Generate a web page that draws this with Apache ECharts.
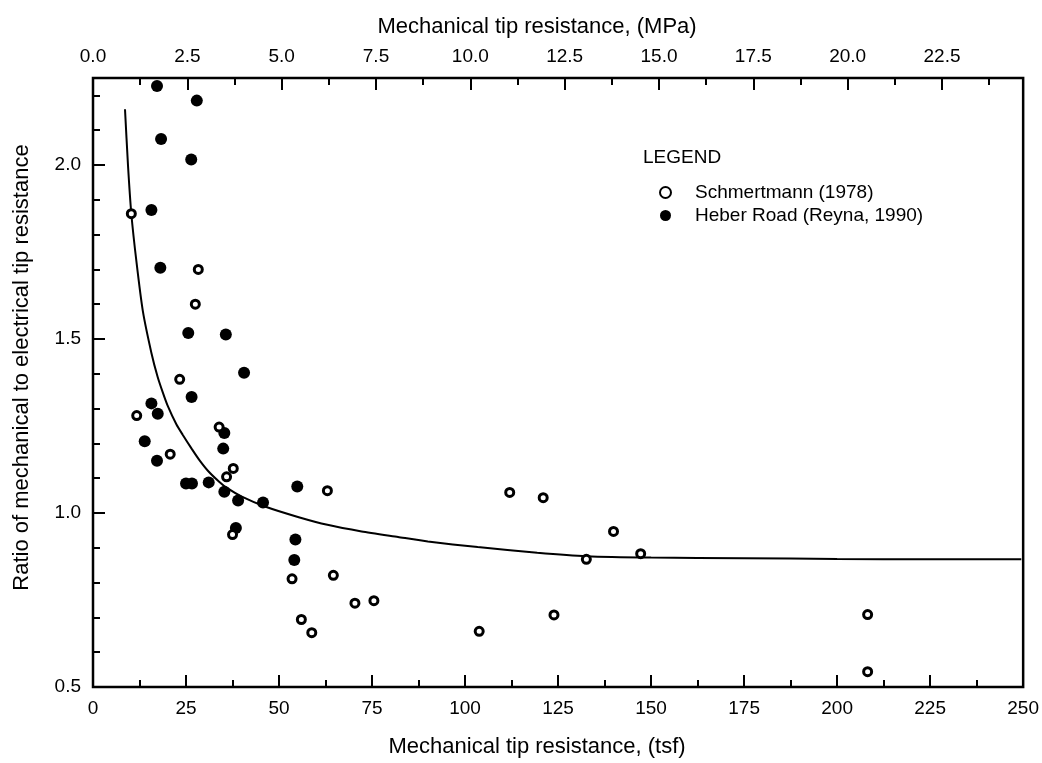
<!DOCTYPE html>
<html>
<head>
<meta charset="utf-8">
<script src="https://cdn.jsdelivr.net/npm/echarts@6/dist/echarts.min.js"></script>
<style>
html,body{margin:0;padding:0;background:#fff;}
#c{width:1042px;height:763px;}
</style>
</head>
<body>
<div id="c"></div>
<script>
// ---- data ----
const seriesNames = ['Schmertmann (1978)', 'Heber Road (Reyna, 1990)'];
const schmertmann = [[10.3,1.86],[28.3,1.70],[27.5,1.60],[23.3,1.384],[11.75,1.28],[20.75,1.169],[33.9,1.247],[37.7,1.128],[35.9,1.104],[37.5,0.938],[53.5,0.811],[63.0,1.064],[64.6,0.821],[70.4,0.741],[75.5,0.748],[56.0,0.694],[58.8,0.656],[112.0,1.059],[121.0,1.044],[139.9,0.947],[132.6,0.867],[147.2,0.883],[123.9,0.707],[103.8,0.660],[208.2,0.708],[208.2,0.544]];
const heberRoad = [[17.2,2.227],[27.9,2.185],[18.3,2.075],[26.4,2.016],[15.7,1.871],[18.1,1.705],[25.6,1.517],[35.7,1.513],[40.6,1.403],[26.5,1.333],[15.7,1.315],[17.4,1.285],[13.9,1.206],[17.2,1.150],[25.0,1.085],[26.6,1.085],[31.1,1.088],[35.3,1.230],[35.0,1.185],[35.3,1.061],[39.0,1.036],[45.7,1.030],[38.4,0.957],[54.9,1.076],[54.4,0.924],[54.1,0.865]];
const fitCurve = [[8.6,2.16],[9.4,2.00],[10.3,1.86],[11.7,1.72],[13.4,1.58],[15.7,1.46],[17.4,1.39],[18.8,1.345],[20.0,1.31],[22.4,1.255],[24.1,1.225],[26.5,1.185],[28.6,1.152],[31.0,1.12],[33.9,1.09],[36.0,1.072],[40.0,1.047],[46.4,1.018],[55.3,0.988],[63.0,0.966],[72.2,0.947],[82.0,0.931],[90.0,0.918],[103.4,0.902],[119.4,0.886],[132.7,0.876],[150.0,0.872],[175.0,0.870],[200.0,0.868],[225.0,0.867],[249.5,0.867]];
// axis ranges / ticks
const tsfRange = [0, 250], tsfStep = 25;
const mpaRange = [0, 24.65], mpaStep = 2.5;
const ratioRange = [0.5, 2.25], ratioStep = 0.5, ratioMinor = 0.1;
const xTitleBottom = 'Mechanical tip resistance, (tsf)';
const xTitleTop = 'Mechanical tip resistance, (MPa)';
const yTitle = 'Ratio of mechanical to electrical tip resistance';

const NARROW = '"Liberation Sans Narrow", "Arial Narrow", "Liberation Sans", Arial, sans-serif';
const REG = '"Liberation Sans", Arial, Helvetica, sans-serif';
const chart = echarts.init(document.getElementById('c'), null, {renderer:'canvas'});
const tickStyle = {show:true, inside:true, length:12, lineStyle:{color:'#000', width:2}};
const minorTickStyle = {show:true, inside:true, length:7, lineStyle:{color:'#000', width:2}};
const lbl = {color:'#000', fontFamily:NARROW, fontSize:19};

chart.setOption({
  backgroundColor:'#fff',
  animation:false,
  title:{text:'LEGEND', left:638, top:143, textStyle:{color:'#000', fontFamily:NARROW, fontSize:19, fontWeight:'normal'}},
  legend:{
    data:seriesNames, orient:'vertical', left:654, top:178, itemWidth:11, itemHeight:11, itemGap:4,
    textStyle:{color:'#000', fontFamily:NARROW, fontSize:19, padding:[0,0,0,19]}
  },
  grid:{left:93, right:13, top:78, bottom:71, show:true, borderColor:'#000', borderWidth:2.5, backgroundColor:'transparent'},
  xAxis:[
    {type:'value', position:'bottom', min:tsfRange[0], max:tsfRange[1], interval:tsfStep,
     axisLine:{show:false}, axisTick:tickStyle, minorTick:Object.assign({splitNumber:2}, minorTickStyle), splitLine:{show:false},
     axisLabel:Object.assign({margin:12}, lbl),
     name:xTitleBottom, nameLocation:'middle', nameGap:49,
     nameTextStyle:{color:'#000', fontFamily:REG, fontSize:22, padding:[0,42,0,0]}},
    {type:'value', position:'top', min:mpaRange[0], max:mpaRange[1], interval:mpaStep,
     axisLine:{show:false}, axisTick:tickStyle, splitLine:{show:false},
     axisLabel:Object.assign({margin:12, showMaxLabel:false, formatter:v=>v.toFixed(1)}, lbl),
     name:xTitleTop, nameLocation:'middle', nameGap:40,
     nameTextStyle:{color:'#000', fontFamily:REG, fontSize:22, padding:[0,42,0,0]}},
    {type:'value', position:'top', min:mpaRange[0], max:mpaRange[1], interval:mpaStep/2,
     axisLine:{show:false}, axisTick:minorTickStyle, splitLine:{show:false}, axisLabel:{show:false}}
  ],
  yAxis:[
    {type:'value', position:'left', min:ratioRange[0], max:ratioRange[1], interval:ratioStep,
     axisLine:{show:false}, axisTick:tickStyle, splitLine:{show:false},
     axisLabel:Object.assign({margin:12, showMaxLabel:false, formatter:v=>v.toFixed(1)}, lbl),
     name:yTitle, nameLocation:'middle', nameGap:60, nameRotate:90,
     nameTextStyle:{color:'#000', fontFamily:REG, fontSize:22, padding:[0,0,0,30]}},
    {type:'value', position:'left', min:ratioRange[0], max:ratioRange[1], interval:ratioMinor,
     axisLine:{show:false}, axisTick:minorTickStyle, splitLine:{show:false}, axisLabel:{show:false}}
  ],
  series:[
    {name:'curve', type:'line', data:fitCurve, xAxisIndex:0, yAxisIndex:0, smooth:0.2, showSymbol:false, symbol:'none',
     lineStyle:{color:'#000', width:2}, z:2, silent:true},
    {name:seriesNames[0], type:'scatter', data:schmertmann, xAxisIndex:0, yAxisIndex:0, symbol:'circle', symbolSize:8,
     itemStyle:{color:'#fff', borderColor:'#000', borderWidth:3, opacity:1}, z:4},
    {name:seriesNames[1], type:'scatter', data:heberRoad, xAxisIndex:0, yAxisIndex:0, symbol:'circle', symbolSize:12,
     itemStyle:{color:'#000', borderColor:'#000', borderWidth:0, opacity:1}, z:3}
  ]
});
</script>
</body>
</html>
